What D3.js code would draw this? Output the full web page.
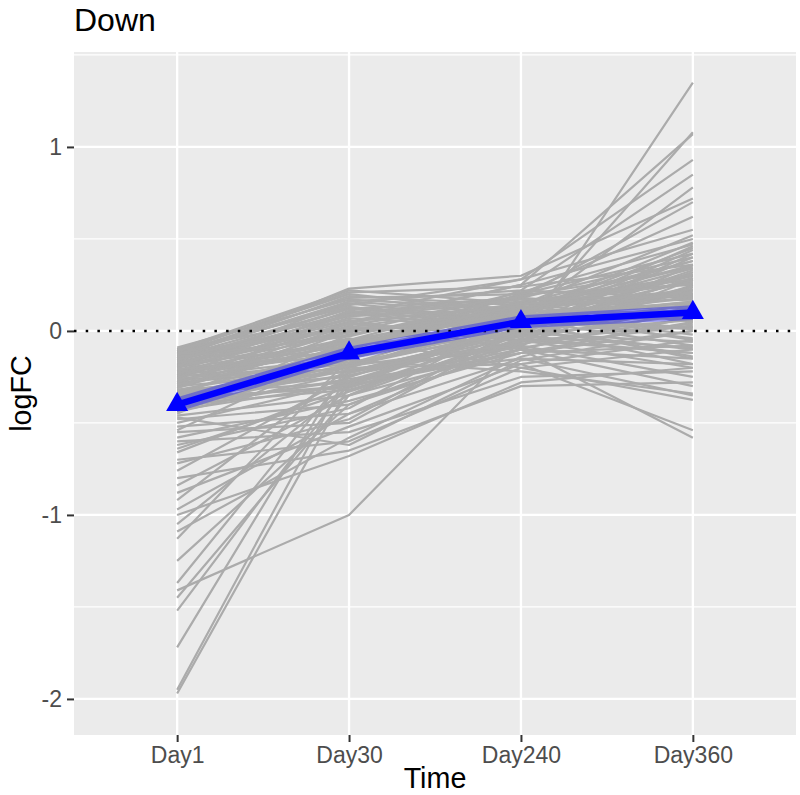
<!DOCTYPE html>
<html>
<head>
<meta charset="utf-8">
<script src="https://cdn.jsdelivr.net/npm/d3@7"></script>
<style>
  html, body { margin: 0; padding: 0; background: #ffffff; }
  svg { display: block; font-family: "Liberation Sans", Arial, Helvetica, sans-serif; }
</style>
</head>
<body>
<svg id="chart" width="800" height="795"></svg>
<script>
// ---------------- data ----------------
const times = ["Day1", "Day30", "Day240", "Day360"];

// logFC per gene at [Day1, Day30, Day240, Day360]
const geneProfiles = [
  [-0.10, 0.22, 0.15, 0.30], [-0.11, 0.20, 0.10, 0.45], [-0.12, 0.18, 0.20, 0.25],
  [-0.13, 0.15, 0.05, 0.10], [-0.14, 0.12, 0.18, 0.40], [-0.15, 0.10, 0.00, -0.10],
  [-0.16, 0.08, 0.12, 0.35], [-0.17, 0.05, 0.25, 0.50], [-0.18, 0.02, -0.05, -0.20],
  [-0.19, 0.00, 0.08, 0.20], [-0.20, -0.02, 0.15, 0.05], [-0.21, -0.05, 0.02, 0.28],
  [-0.22, -0.08, 0.10, -0.05], [-0.23, -0.10, 0.20, 0.42], [-0.24, -0.12, -0.02, 0.15],
  [-0.25, -0.15, 0.05, -0.15], [-0.26, 0.05, 0.14, 0.22], [-0.27, -0.18, 0.00, 0.32],
  [-0.28, -0.20, 0.07, 0.02], [-0.29, 0.10, 0.18, 0.12], [-0.30, -0.22, -0.08, -0.25],
  [-0.31, -0.05, 0.12, 0.38], [-0.32, -0.25, 0.04, 0.08], [-0.33, -0.10, 0.22, 0.18],
  [-0.34, -0.28, -0.10, -0.30], [-0.35, 0.00, 0.10, 0.48], [-0.36, -0.15, 0.06, -0.08],
  [-0.37, -0.30, -0.12, 0.00], [-0.38, -0.08, 0.16, 0.26], [-0.39, -0.18, 0.03, 0.14],
  [-0.40, -0.32, -0.05, -0.12], [-0.41, -0.12, 0.09, 0.34], [-0.42, -0.26, -0.15, -0.35],
  [-0.43, -0.02, 0.13, 0.06], [-0.12, 0.14, 0.28, 0.55], [-0.15, 0.23, 0.30, 0.72],
  [-0.20, 0.16, 0.22, 0.85], [-0.25, 0.04, 0.25, 1.07], [-0.18, 0.09, 0.28, 0.93],
  [-0.30, -0.06, -0.05, 1.35], [-0.22, 0.11, 0.02, 1.08], [-0.35, -0.14, 0.08, 0.78],
  [-0.28, 0.03, 0.18, 0.70], [-0.38, -0.20, -0.18, -0.54], [-0.16, 0.06, -0.10, -0.58],
  [-0.24, -0.04, -0.20, -0.375], [-0.32, -0.16, -0.22, -0.34], [-0.11, 0.13, 0.05, 0.46],
  [-0.14, 0.19, 0.14, 0.52], [-0.19, 0.07, 0.02, 0.44], [-0.27, -0.09, 0.11, 0.36],
  [-0.33, -0.22, 0.00, 0.24], [-0.13, 0.01, 0.06, 0.16], [-0.21, -0.11, 0.09, -0.02],
  [-0.36, -0.24, -0.06, 0.04], [-0.09, 0.17, 0.12, 0.20], [-0.42, -0.19, 0.01, 0.10],
  [-0.46, -0.35, -0.10, 0.12], [-0.48, -0.40, -0.05, 0.25], [-0.50, -0.28, 0.05, 0.30],
  [-0.52, -0.45, -0.15, -0.18], [-0.55, -0.50, 0.00, 0.40], [-0.58, -0.38, -0.12, 0.05],
  [-0.60, -0.55, -0.25, -0.22], [-0.62, -0.42, 0.08, 0.18], [-0.66, -0.30, -0.08, 0.28],
  [-0.70, -0.60, -0.20, -0.10], [-0.72, -0.48, 0.02, 0.33], [-0.76, -0.25, 0.04, 0.10],
  [-0.80, -0.65, -0.30, -0.28], [-0.84, -0.35, -0.02, 0.22], [-0.88, -0.52, -0.18, -0.05],
  [-0.92, -0.20, 0.10, 0.15], [-0.97, -0.45, -0.06, 0.36], [-1.00, -0.68, -0.28, -0.20],
  [-1.05, -0.30, 0.06, 0.27], [-1.09, -0.58, -0.14, 0.08], [-1.13, -0.15, 0.12, 0.20],
  [-1.25, -0.40, -0.10, -0.15], [-1.37, -0.22, 0.00, 0.42], [-1.41, -1.00, -0.05, 0.13],
  [-1.45, -0.35, 0.05, 0.02], [-1.52, -0.28, -0.12, -0.08], [-1.72, -0.18, 0.10, 0.30],
  [-1.95, -0.22, -0.02, 0.06], [-1.97, -0.30, 0.04, 0.24], [-0.47, -0.62, -0.16, 0.00],
  [-0.54, -0.10, 0.15, 0.38], [-0.64, -0.33, -0.04, -0.12], [-0.45, -0.05, 0.20, 0.62],
  [-0.10, 0.08, 0.16, 0.28], [-0.12, 0.02, 0.03, 0.12], [-0.14, -0.03, 0.19, 0.34],
  [-0.16, 0.12, 0.07, -0.04], [-0.18, -0.07, 0.13, 0.21], [-0.20, 0.04, -0.03, 0.09],
  [-0.22, -0.13, 0.11, 0.31], [-0.24, 0.09, 0.17, 0.19], [-0.26, -0.17, -0.01, -0.06],
  [-0.28, 0.00, 0.08, 0.14], [-0.11, 0.21, 0.24, 0.36], [-0.13, 0.16, 0.09, 0.11],
  [-0.17, -0.01, 0.21, 0.47], [-0.19, 0.13, 0.04, -0.14], [-0.23, -0.06, 0.14, 0.26],
  [-0.29, -0.14, 0.06, 0.01], [-0.31, 0.02, 0.15, 0.17], [-0.34, -0.19, -0.07, 0.07],
  [-0.37, -0.11, 0.02, -0.18], [-0.40, -0.27, 0.01, 0.23], [-0.41, -0.21, -0.09, 0.03],
  [-0.43, -0.29, 0.05, 0.19], [-0.39, -0.07, 0.11, 0.09], [-0.44, -0.23, -0.03, -0.09],
  [-0.36, -0.31, -0.01, 0.29], [-0.42, -0.13, 0.07, 0.16]
];

// summary (blue) line and its band
const meanLogFC = [-0.40, -0.12, 0.05, 0.10];
const bandLower = [-0.44, -0.155, 0.015, 0.06];
const bandUpper = [-0.36, -0.085, 0.085, 0.14];

const yMajorTicks = [-2, -1, 0, 1];
const yMinorTicks = [-1.5, -0.5, 0.5, 1.5];
const titleText = "Down";
const xTitle = "Time";
const yTitle = "logFC";

// ---------------- layout ----------------
const panel = { left: 74, right: 796, top: 52, bottom: 735 };
const svg = d3.select("#chart");

const x = d3.scalePoint().domain(times).range([panel.left, panel.right]).padding(0.6);
const y = d3.scaleLinear().domain([-2.196, 1.516]).range([panel.bottom, panel.top]);

// panel background
svg.append("rect")
  .attr("x", panel.left).attr("y", panel.top)
  .attr("width", panel.right - panel.left).attr("height", panel.bottom - panel.top)
  .attr("fill", "#ebebeb");

svg.append("clipPath").attr("id", "pclip").append("rect")
  .attr("x", panel.left).attr("y", panel.top)
  .attr("width", panel.right - panel.left).attr("height", panel.bottom - panel.top);

const g = svg.append("g").attr("clip-path", "url(#pclip)");

// minor grid
g.selectAll("line.minor").data(yMinorTicks).join("line")
  .attr("x1", panel.left).attr("x2", panel.right)
  .attr("y1", d => y(d)).attr("y2", d => y(d))
  .attr("stroke", "#ffffff").attr("stroke-width", 1.2);

// major grid
g.selectAll("line.majory").data(yMajorTicks).join("line")
  .attr("x1", panel.left).attr("x2", panel.right)
  .attr("y1", d => y(d)).attr("y2", d => y(d))
  .attr("stroke", "#ffffff").attr("stroke-width", 2.3);
g.selectAll("line.majorx").data(times).join("line")
  .attr("x1", d => x(d)).attr("x2", d => x(d))
  .attr("y1", panel.top).attr("y2", panel.bottom)
  .attr("stroke", "#ffffff").attr("stroke-width", 2.3);

// gene lines
const lineGen = d3.line().x((d, i) => x(times[i])).y(d => y(d));
g.append("g").selectAll("path").data(geneProfiles).join("path")
  .attr("d", d => lineGen(d))
  .attr("fill", "none")
  .attr("stroke", "#ababab")
  .attr("stroke-width", 2.2)
  .attr("stroke-linejoin", "round");

// band
const area = d3.area()
  .x((d, i) => x(times[i]))
  .y0((d, i) => y(bandLower[i]))
  .y1((d, i) => y(bandUpper[i]));
g.append("path").datum(meanLogFC)
  .attr("d", area)
  .attr("fill", "#0000ff").attr("opacity", 0.35);

// zero reference line
g.append("line")
  .attr("x1", panel.left).attr("x2", panel.right)
  .attr("y1", y(0)).attr("y2", y(0))
  .attr("stroke", "#000000").attr("stroke-width", 2.5)
  .attr("stroke-dasharray", "2.5,9.2");

// mean line
g.append("path").datum(meanLogFC)
  .attr("d", lineGen)
  .attr("fill", "none").attr("stroke", "#0000ff")
  .attr("stroke-width", 6.5).attr("stroke-linejoin", "round");

// triangles
g.selectAll("path.tri").data(meanLogFC).join("path")
  .attr("transform", (d, i) => `translate(${x(times[i])},${y(d)})`)
  .attr("d", d3.symbol().type(d3.symbolTriangle).size(210))
  .attr("fill", "#0000ff");

// ---------------- axes ----------------
const xAxis = svg.append("g").attr("transform", `translate(0,${panel.bottom})`)
  .call(d3.axisBottom(x).tickSize(7).tickSizeOuter(0).tickPadding(5));
xAxis.select(".domain").remove();
xAxis.selectAll(".tick line").attr("stroke", "#333333").attr("stroke-width", 2);
xAxis.selectAll(".tick text").attr("fill", "#4d4d4d").attr("font-size", 23)
  .attr("font-family", "Liberation Sans, Arial, sans-serif");

const yAxis = svg.append("g").attr("transform", `translate(${panel.left},0)`)
  .call(d3.axisLeft(y).tickValues(yMajorTicks).tickSize(7).tickPadding(5)
    .tickFormat(d3.format("d")));
yAxis.select(".domain").remove();
yAxis.selectAll(".tick line").attr("stroke", "#333333").attr("stroke-width", 2);
yAxis.selectAll(".tick text").attr("fill", "#4d4d4d").attr("font-size", 23)
  .attr("font-family", "Liberation Sans, Arial, sans-serif")
  .text(d => d < 0 ? "-" + Math.abs(d) : String(d));

// titles
svg.append("text").attr("x", panel.left).attr("y", 31)
  .attr("font-size", 32).attr("fill", "#000").text(titleText);
svg.append("text").attr("x", (panel.left + panel.right) / 2).attr("y", 788)
  .attr("text-anchor", "middle").attr("font-size", 28.7).attr("fill", "#000").text(xTitle);
svg.append("text")
  .attr("transform", `translate(31,${(panel.top + panel.bottom) / 2}) rotate(-90)`)
  .attr("text-anchor", "middle").attr("font-size", 28.7).attr("fill", "#000").text(yTitle);
</script>
</body>
</html>
